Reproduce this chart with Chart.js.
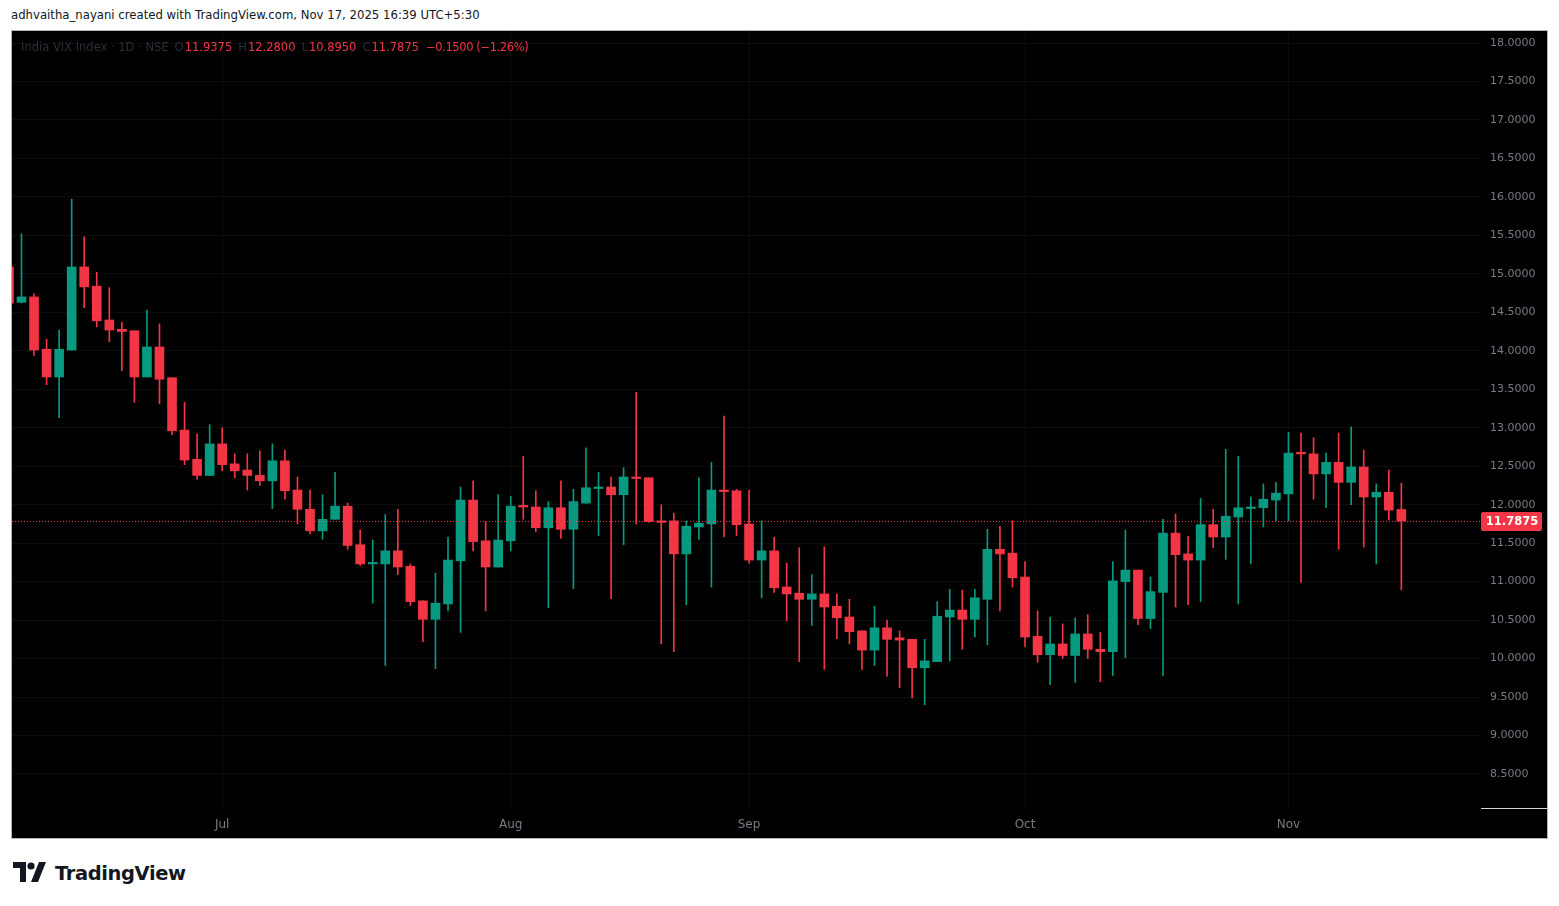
<!DOCTYPE html>
<html>
<head>
<meta charset="utf-8">
<script src="https://cdn.jsdelivr.net/npm/chart.js@4.4.1/dist/chart.umd.min.js"></script>
<style>
  html, body { margin: 0; padding: 0; background: #ffffff; }
  body { width: 1559px; height: 906px; position: relative; overflow: hidden; font-family: "DejaVu Sans", sans-serif; }
  .credit { position: absolute; left: 11px; top: 8px; font-size: 11.7px; color: #131722; }
  .frame { position: absolute; left: 11px; top: 30px; width: 1535px; height: 807px; border: 1px solid #b2b5be; background: #000000; }
  #chart { position: absolute; left: 0; top: 0; }
  .legend { position: absolute; left: 9px; top: 9px; font-size: 11.5px; color: #2a2e39; white-space: nowrap; }
  .legend .g { margin-left: 6px; }
  .legend .v { color: #f23645; margin-left: 1px; }
  .legend .chg { color: #f23645; margin-left: 7px; letter-spacing: -0.4px; }
  .corner { position: absolute; left: 1469px; top: 777px; width: 66px; height: 1px; background: #d1d4dc; }
  .brand { position: absolute; left: 13px; top: 860px; display: flex; align-items: center; }
  .brand span { font-family: "DejaVu Sans", sans-serif; font-weight: bold; font-size: 19.5px; color: #131722; margin-left: 8px; letter-spacing: -0.4px; }
</style>
</head>
<body>
<div class="credit">adhvaitha_nayani created with TradingView.com, Nov 17, 2025 16:39 UTC+5:30</div>
<div class="frame">
  <canvas id="chart" width="1535" height="807"></canvas>
  <div class="legend">India VIX Index · 1D · NSE<span class="g">O<span class="v">11.9375</span></span><span class="g">H<span class="v">12.2800</span></span><span class="g">L<span class="v">10.8950</span></span><span class="g">C<span class="v">11.7875</span></span><span class="chg">−0.1500 (−1.26%)</span></div>
  <div class="corner"></div>
</div>
<div class="brand">
  <svg width="34" height="26" viewBox="0 0 34 26">
    <path d="M0 2h13v20H7V8H0z" fill="#131722"/>
    <circle cx="18" cy="6" r="3.6" fill="#131722"/>
    <path d="M26 2h7l-8 20h-7z" fill="#131722"/>
  </svg>
  <span>TradingView</span>
</div>
<script>
// trading days shown (NSE), Jun 6 -> Nov 17 2025
const dates = [
  '2025-06-06','2025-06-09','2025-06-10','2025-06-11','2025-06-12','2025-06-13','2025-06-16','2025-06-17','2025-06-18','2025-06-19',
  '2025-06-20','2025-06-23','2025-06-24','2025-06-25','2025-06-26','2025-06-27','2025-06-30','2025-07-01','2025-07-02','2025-07-03',
  '2025-07-04','2025-07-07','2025-07-08','2025-07-09','2025-07-10','2025-07-11','2025-07-14','2025-07-15','2025-07-16','2025-07-17',
  '2025-07-18','2025-07-21','2025-07-22','2025-07-23','2025-07-24','2025-07-25','2025-07-28','2025-07-29','2025-07-30','2025-07-31',
  '2025-08-01','2025-08-04','2025-08-05','2025-08-06','2025-08-07','2025-08-08','2025-08-11','2025-08-12','2025-08-13','2025-08-14',
  '2025-08-18','2025-08-19','2025-08-20','2025-08-21','2025-08-22','2025-08-25','2025-08-26','2025-08-28','2025-08-29','2025-09-01',
  '2025-09-02','2025-09-03','2025-09-04','2025-09-05','2025-09-08','2025-09-09','2025-09-10','2025-09-11','2025-09-12','2025-09-15',
  '2025-09-16','2025-09-17','2025-09-18','2025-09-19','2025-09-22','2025-09-23','2025-09-24','2025-09-25','2025-09-26','2025-09-29',
  '2025-09-30','2025-10-01','2025-10-03','2025-10-06','2025-10-07','2025-10-08','2025-10-09','2025-10-10','2025-10-13','2025-10-14',
  '2025-10-15','2025-10-16','2025-10-17','2025-10-20','2025-10-21','2025-10-23','2025-10-24','2025-10-27','2025-10-28','2025-10-29',
  '2025-10-30','2025-10-31','2025-11-03','2025-11-04','2025-11-06','2025-11-07','2025-11-10','2025-11-11','2025-11-12','2025-11-13',
  '2025-11-14','2025-11-17'
];

const open = [
  15.09, 14.63, 14.70, 14.02, 13.66, 14.01, 15.09, 14.84, 14.40, 14.28,
  14.26, 13.66, 14.05, 13.65, 12.97, 12.59, 12.38, 12.79, 12.53, 12.45,
  12.38, 12.31, 12.57, 12.19, 11.94, 11.66, 11.81, 11.98, 11.48, 11.23,
  11.23, 11.40, 11.20, 10.75, 10.51, 10.71, 11.27, 12.06, 11.53, 11.19,
  11.53, 11.99, 11.97, 11.70, 11.96, 11.68, 12.02, 12.21, 12.23, 12.13,
  12.36, 12.35, 11.79, 11.79, 11.36, 11.71, 11.75, 12.19, 12.18, 11.75,
  11.28, 11.40, 10.93, 10.85, 10.77, 10.84, 10.68, 10.54, 10.36, 10.11,
  10.40, 10.27, 10.25, 9.88, 9.96, 10.54, 10.63, 10.51, 10.77, 11.42,
  11.37, 11.06, 10.29, 10.05, 10.19, 10.04, 10.32, 10.12, 10.09, 11.00,
  11.15, 10.52, 10.86, 11.63, 11.36, 11.28, 11.74, 11.58, 11.84, 11.95,
  11.96, 12.06, 12.14, 12.68, 12.66, 12.40, 12.55, 12.29, 12.49, 12.10,
  12.16, 11.9375
];
const high = [
  15.09, 15.52, 14.74, 14.15, 14.27, 15.97, 15.48, 15.02, 14.82, 14.37,
  14.26, 14.53, 14.35, 13.65, 13.33, 12.92, 13.04, 13.00, 12.66, 12.66,
  12.70, 12.79, 12.71, 12.36, 12.19, 12.13, 12.42, 12.02, 11.67, 11.54,
  11.87, 11.94, 11.23, 10.75, 11.11, 11.58, 12.23, 12.31, 11.78, 12.13,
  12.11, 12.63, 12.18, 12.04, 12.31, 12.20, 12.74, 12.42, 12.36, 12.48,
  13.46, 12.35, 12.00, 11.89, 11.79, 12.35, 12.55, 13.15, 12.20, 12.19,
  11.79, 11.58, 11.24, 11.44, 11.09, 11.45, 10.84, 10.77, 10.36, 10.68,
  10.50, 10.36, 10.25, 10.25, 10.74, 10.90, 10.89, 10.90, 11.68, 11.72,
  11.79, 11.26, 10.62, 10.54, 10.45, 10.53, 10.57, 10.34, 11.26, 11.67,
  11.15, 11.06, 11.81, 11.88, 11.59, 12.08, 11.94, 12.72, 12.63, 12.10,
  12.27, 12.29, 12.94, 12.93, 12.87, 12.67, 12.93, 13.01, 12.71, 12.27,
  12.45, 12.28
];
const low = [
  14.62, 14.62, 13.94, 13.56, 13.13, 14.01, 14.56, 14.31, 14.12, 13.74,
  13.33, 13.66, 13.31, 12.91, 12.52, 12.33, 12.38, 12.44, 12.35, 12.19,
  12.25, 11.95, 12.07, 11.75, 11.62, 11.55, 11.81, 11.42, 11.21, 10.72,
  9.91, 11.09, 10.69, 10.22, 9.87, 10.62, 10.34, 11.40, 10.62, 11.19,
  11.40, 11.81, 11.65, 10.66, 11.56, 10.91, 12.02, 11.60, 10.78, 11.48,
  11.75, 11.77, 10.19, 10.09, 10.70, 11.55, 10.93, 11.58, 11.60, 11.24,
  10.79, 10.86, 10.49, 9.96, 10.43, 9.86, 10.26, 10.19, 9.86, 9.91,
  9.77, 9.62, 9.49, 9.40, 9.96, 9.97, 10.12, 10.28, 10.18, 10.62,
  10.93, 10.15, 9.95, 9.66, 10.00, 9.69, 10.00, 9.70, 9.78, 10.01,
  10.44, 10.39, 9.78, 10.67, 10.70, 10.74, 11.44, 11.29, 10.71, 11.23,
  11.71, 11.79, 11.79, 10.99, 12.07, 11.96, 11.42, 12.00, 11.45, 11.23,
  11.80, 10.895
];
const close = [
  14.62, 14.70, 14.01, 13.66, 14.02, 15.09, 14.83, 14.39, 14.27, 14.25,
  13.66, 14.05, 13.63, 12.96, 12.58, 12.38, 12.79, 12.52, 12.44, 12.38,
  12.31, 12.57, 12.18, 11.94, 11.66, 11.81, 11.98, 11.47, 11.23, 11.25,
  11.40, 11.19, 10.74, 10.51, 10.72, 11.28, 12.06, 11.52, 11.19, 11.54,
  11.98, 11.97, 11.70, 11.96, 11.68, 12.04, 12.22, 12.23, 12.13, 12.36,
  12.34, 11.78, 11.77, 11.36, 11.72, 11.76, 12.19, 12.17, 11.74, 11.28,
  11.40, 10.92, 10.84, 10.77, 10.84, 10.67, 10.53, 10.35, 10.11, 10.40,
  10.25, 10.24, 9.88, 9.97, 10.55, 10.63, 10.51, 10.79, 11.42, 11.36,
  11.05, 10.28, 10.05, 10.19, 10.04, 10.32, 10.12, 10.09, 11.01, 11.15,
  10.52, 10.87, 11.63, 11.35, 11.28, 11.74, 11.58, 11.85, 11.96, 11.97,
  12.07, 12.15, 12.67, 12.66, 12.40, 12.55, 12.29, 12.49, 12.10, 12.16,
  11.93, 11.7875
];

const priceTicks = [8.5, 9, 9.5, 10, 10.5, 11, 11.5, 12, 12.5, 13, 13.5, 14, 14.5, 15, 15.5, 16, 16.5, 17, 17.5, 18];
const monthNames = ['Jan', 'Feb', 'Mar', 'Apr', 'May', 'Jun', 'Jul', 'Aug', 'Sep', 'Oct', 'Nov', 'Dec'];

const UP = '#089981';
const DOWN = '#f23645';
const lastClose = close[close.length - 1];

// first trading day of each month gets a label (skip the partial first month)
const monthTicks = {};
dates.forEach((d, i) => {
  if (i > 0 && d.slice(5, 7) !== dates[i - 1].slice(5, 7)) {
    monthTicks[i] = monthNames[Number(d.slice(5, 7)) - 1];
  }
});

const candleColors = open.map((o, i) => (close[i] < o ? DOWN : UP));

const lastPricePlugin = {
  id: 'lastPrice',
  afterDatasetsDraw(chart) {
    const { ctx, chartArea, scales } = chart;
    const y = Math.round(scales.y.getPixelForValue(lastClose)) + 0.5;
    ctx.save();
    ctx.strokeStyle = DOWN;
    ctx.lineWidth = 1;
    ctx.setLineDash([1, 2]);
    ctx.beginPath();
    ctx.moveTo(chartArea.left, y);
    ctx.lineTo(chartArea.right, y);
    ctx.stroke();
    ctx.setLineDash([]);
    ctx.fillStyle = DOWN;
    ctx.beginPath();
    ctx.roundRect(chartArea.right + 1, y - 9.5, 61, 19, 2);
    ctx.fill();
    ctx.fillStyle = '#ffffff';
    ctx.font = 'bold 11.5px "DejaVu Sans", sans-serif';
    ctx.textBaseline = 'middle';
    ctx.textAlign = 'center';
    ctx.fillText(lastClose.toFixed(4), chartArea.right + 32, y + 0.5);
    ctx.restore();
  }
};

new Chart(document.getElementById('chart'), {
  type: 'bar',
  data: {
    datasets: [
      {
        label: 'wick',
        data: dates.map((_, i) => ({ x: i, y: [low[i], high[i]] })),
        backgroundColor: candleColors,
        barThickness: 1,
        grouped: false,
        minBarLength: 1,
        borderWidth: 0
      },
      {
        label: 'body',
        data: dates.map((_, i) => ({ x: i, y: [open[i], close[i]] })),
        backgroundColor: candleColors,
        barThickness: 9,
        grouped: false,
        minBarLength: 1,
        borderWidth: 0
      }
    ]
  },
  options: {
    responsive: false,
    animation: false,
    layout: { padding: 0 },
    plugins: { legend: { display: false }, tooltip: { enabled: false } },
    scales: {
      x: {
        type: 'linear',
        offset: false,
        min: 0.243,
        max: 117.27,
        grid: { color: '#0c0c0c', drawTicks: false, offset: false },
        border: { display: false },
        afterBuildTicks: (axis) => {
          axis.ticks = Object.keys(monthTicks).map((k) => ({ value: Number(k) }));
        },
        afterFit: (axis) => {
          axis.height = 31;
          axis.paddingLeft = 0;
          axis.paddingRight = 0;
        },
        ticks: {
          padding: 11,
          color: '#787b86',
          font: { family: '"DejaVu Sans", sans-serif', size: 12 },
          maxRotation: 0,
          autoSkip: false,
          callback: (value) => monthTicks[value] || ''
        }
      },
      y: {
        position: 'right',
        min: 8.071,
        max: 18.156,
        grid: { color: '#0c0c0c', drawTicks: false },
        border: { display: false },
        afterBuildTicks: (axis) => {
          axis.ticks = priceTicks.map((v) => ({ value: v }));
        },
        afterFit: (axis) => {
          axis.width = 67;
          axis.paddingTop = 0;
          axis.paddingBottom = 0;
        },
        ticks: {
          padding: 10,
          color: '#787b86',
          font: { family: '"DejaVu Sans", sans-serif', size: 11 },
          callback: (value) => Number(value).toFixed(4)
        }
      }
    }
  },
  plugins: [lastPricePlugin]
});
</script>
</body>
</html>
